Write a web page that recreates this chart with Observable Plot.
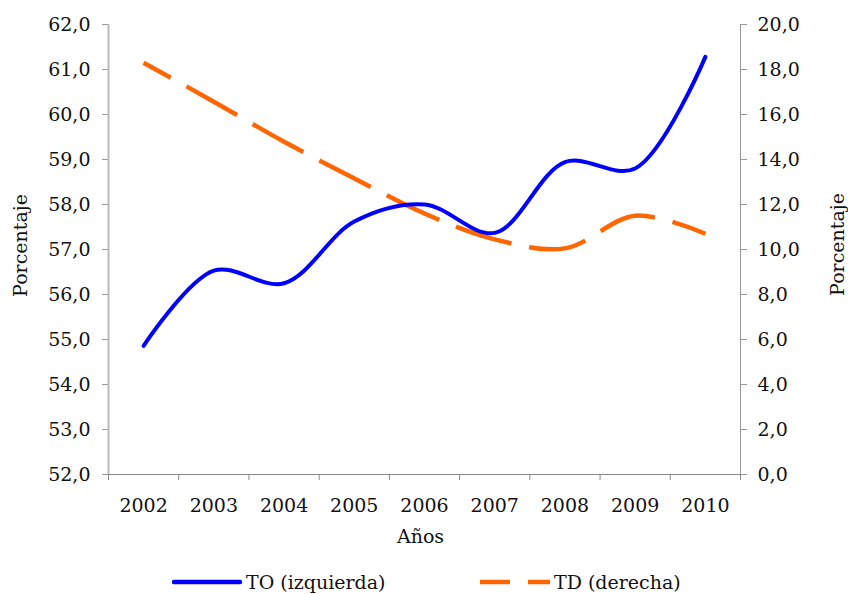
<!DOCTYPE html>
<html>
<head>
<meta charset="utf-8">
<script src="https://cdn.jsdelivr.net/npm/d3@7"></script>
<script src="https://cdn.jsdelivr.net/npm/@observablehq/plot@0.6"></script>
<style>
  html, body { margin: 0; padding: 0; background: #fff; }
  #wrap { width: 848px; font-family: "DejaVu Serif", serif; color: #111; }
  #legend { height: 25px; display: flex; align-items: center; font-size: 19px; position: relative; }
  .item { position: absolute; display: flex; align-items: center; }
  .item svg { display: block; margin-right: 4px; }
</style>
</head>
<body>
<div id="wrap">
  <div id="chart"></div>
  <div id="legend"></div>
</div>
<script>
// ---- data ----
const years = [2002, 2003, 2004, 2005, 2006, 2007, 2008, 2009, 2010];
const toValues = [54.86, 56.53, 56.25, 57.62, 58.0, 57.37, 58.94, 58.8, 61.28];   // TO (izquierda)
const tdValues = [18.3, 16.57, 14.79, 13.16, 11.6, 10.45, 10.05, 11.5, 10.7];    // TD (derecha)
const leftTicks = [52, 53, 54, 55, 56, 57, 58, 59, 60, 61, 62];
const rightTicks = [0, 2, 4, 6, 8, 10, 12, 14, 16, 18, 20];
const seriesNames = ["TO (izquierda)", "TD (derecha)"];
const seriesColors = ["#0000ff", "#ff6600"];

// ---- derived ----
const data = years.map((year, i) => ({year, to: toValues[i], td: tdValues[i]}));
const xDomain = [years[0] - 0.5, years[years.length - 1] + 0.5];
const boundaries = [...years.map(y => y - 0.5), years[years.length - 1] + 0.5];
const yDomain = [leftTicks[0], leftTicks[leftTicks.length - 1]];
const y2 = d3.scaleLinear().domain([rightTicks[0], rightTicks[rightTicks.length - 1]]).range(yDomain);
const fmt = d => (Math.round(d * 10) / 10).toFixed(1).replace(".", ",");
const FS = 19;

const chart = Plot.plot({
  width: 848,
  height: 569,
  marginLeft: 108,
  marginRight: 108,
  marginTop: 24,
  marginBottom: 95,
  style: {fontFamily: "DejaVu Serif", fontSize: FS + "px", color: "#111", background: "#fff"},
  x: {type: "linear", domain: xDomain},
  y: {domain: yDomain},
  marks: [
    Plot.axisX({ticks: boundaries, tickFormat: () => "", tickSize: 6, stroke: "#888", label: null}),
    Plot.axisX({ticks: years, tickFormat: d => String(d), tickSize: 0, tickPadding: 24, fontSize: FS, label: null}),
    Plot.axisY({ticks: leftTicks, tickFormat: fmt, tickSize: 6, tickPadding: 12, fontSize: FS, stroke: "#999", anchor: "left", label: null}),
    Plot.axisY({ticks: rightTicks.map(y2), tickFormat: d => fmt(y2.invert(d)), tickSize: 6, tickPadding: 11, fontSize: FS, stroke: "#999", anchor: "right", label: null}),
    Plot.ruleX([xDomain[0]], {y1: yDomain[0], y2: yDomain[1], stroke: "#bbb", strokeWidth: 2}),
    Plot.ruleX([xDomain[1]], {y1: yDomain[0], y2: yDomain[1], stroke: "#999"}),
    Plot.ruleY([yDomain[0]], {stroke: "#888"}),
    Plot.line(data, {x: "year", y: d => y2(d.td), stroke: seriesColors[1], strokeWidth: 4.5, curve: "catmull-rom", strokeDasharray: "58,18", strokeDashoffset: 27, strokeLinecap: "butt"}),
    Plot.line(data, {x: "year", y: "to", stroke: seriesColors[0], strokeWidth: 4, curve: "catmull-rom", strokeLinecap: "round"}),
    Plot.text(["Años"], {frameAnchor: "bottom", text: d => d, dy: 68, fontSize: FS, textAnchor: "middle", dx: -4}),
    Plot.text(["Porcentaje"], {frameAnchor: "left", text: d => d, dx: -88, dy: -4, rotate: -90, fontSize: FS, textAnchor: "middle"}),
    Plot.text(["Porcentaje"], {frameAnchor: "right", text: d => d, dx: 97, dy: -5, rotate: -90, fontSize: FS, textAnchor: "middle"})
  ]
});
document.getElementById("chart").appendChild(chart);

// ---- legend ----
const legend = document.getElementById("legend");
const positions = [172, 480];
seriesNames.forEach((name, i) => {
  const item = document.createElement("div");
  item.className = "item";
  item.style.left = positions[i] + "px";
  const dash = i === 1 ? 'stroke-dasharray="30,18"' : "";
  const cap = i === 0 ? "round" : "butt";
  item.innerHTML = `<svg width="70" height="10"><line x1="${i === 0 ? 2 : 0}" x2="${i === 0 ? 68 : 70}" y1="5" y2="5" stroke="${seriesColors[i]}" stroke-width="4.5" stroke-linecap="${cap}" ${dash}/></svg><span>${name}</span>`;
  legend.appendChild(item);
});
</script>
</body>
</html>
